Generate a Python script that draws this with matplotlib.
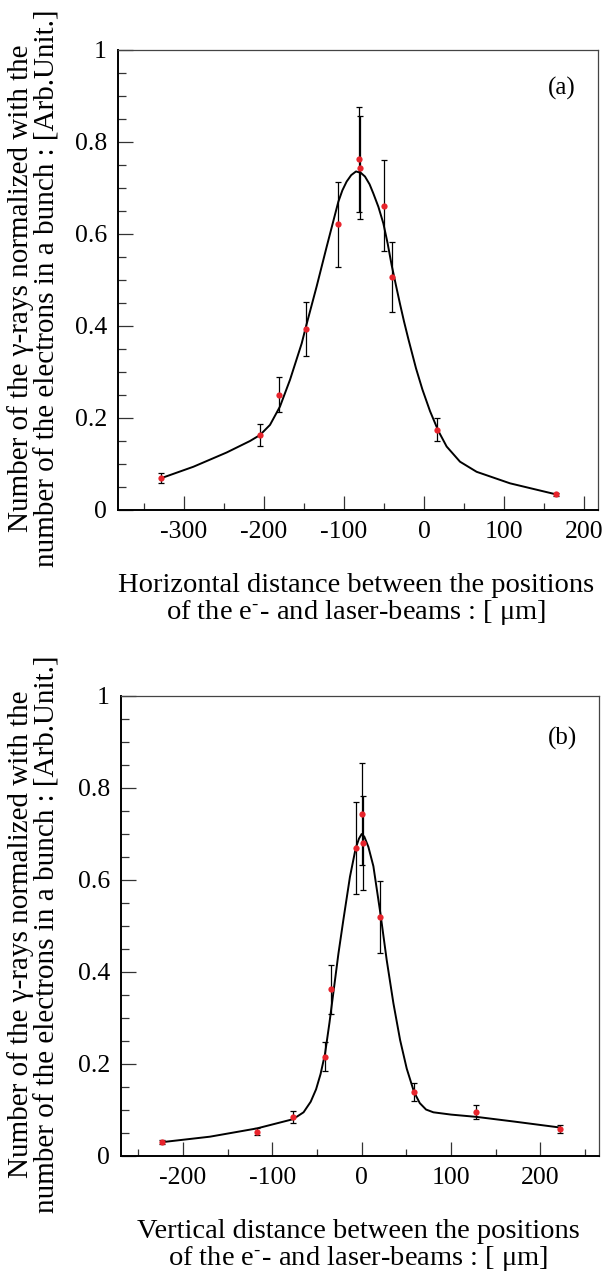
import numpy as np
import matplotlib.pyplot as plt
from matplotlib.ticker import MultipleLocator, FuncFormatter

plt.rcParams['font.family'] = ['Liberation Serif', 'DejaVu Serif']
plt.rcParams['mathtext.fontset'] = 'stix'
plt.rcParams['axes.unicode_minus'] = False

# (a) horizontal scan: measured points
h_pos = [-329, -205, -181, -147.5, -107, -81, -80, -50, -40.4, 16.3, 165]
h_val = [0.069, 0.163, 0.251, 0.394, 0.621, 0.762, 0.744, 0.661, 0.506, 0.175, 0.034]
h_err = [0.011, 0.024, 0.038, 0.059, 0.093, 0.115, 0.112, 0.099, 0.076, 0.026, 0.004]

# (a) fitted curve
h_fit_x = [-328.8, -288.3, -246.7, -217.5, -205, -192.5, -180, -167.5, -152.9,
           -147.5, -134.2, -121.7, -107.1, -102, -96.7, -91, -85, -79, -73.8,
           -68, -63.3, -57, -50.8, -45.5, -40.4, -35, -30, -25, -19.6, -10, -2,
           7.5, 17.9, 28.3, 45, 65.8, 107.5, 165]
h_fit_y = [0.069, 0.094, 0.125, 0.150, 0.163, 0.185, 0.225, 0.283, 0.362,
           0.399, 0.486, 0.572, 0.670, 0.695, 0.714, 0.728, 0.736, 0.733, 0.725,
           0.708, 0.688, 0.659, 0.623, 0.580, 0.532, 0.488, 0.448, 0.410, 0.372,
           0.308, 0.262, 0.215, 0.172, 0.138, 0.105, 0.083, 0.058, 0.034]

# (b) vertical scan: measured points
v_pos = [-223.7, -117.1, -76.8, -41, -34.7, -6.4, 0, 1.9, 20.8, 58.5, 128.2, 221.5]
v_val = [0.030, 0.053, 0.085, 0.216, 0.362, 0.669, 0.743, 0.681, 0.520, 0.139, 0.095, 0.059]
v_err = [0.004, 0.008, 0.013, 0.032, 0.054, 0.100, 0.111, 0.102, 0.078, 0.020, 0.015, 0.009]

# (b) fitted curve
v_fit_x = [-223.7, -169.7, -117.1, -76.8, -65, -57, -51, -46, -41, -36, -31, -26,
           -20.5, -13.1, -6.7, -3, 0, 3, 7.5, 13.1, 20.9, 28, 35.5, 43, 50.4,
           58.6, 65, 72, 80.2, 100, 128.6, 170, 221.5]
v_fit_y = [0.030, 0.042, 0.060, 0.080, 0.095, 0.118, 0.145, 0.178, 0.222, 0.290,
           0.365, 0.440, 0.513, 0.607, 0.669, 0.690, 0.700, 0.694, 0.672, 0.630,
           0.528, 0.426, 0.332, 0.252, 0.190, 0.139, 0.115, 0.101, 0.095, 0.090,
           0.085, 0.075, 0.062]

ylabel = "Number of the \u03b3-rays normalized with the\nnumber of the electrons in a bunch : [Arb.Unit.]"
xlabel_h = "Horizontal distance between the positions\nof the e$^{\\text{-}}$- and laser-beams : [ \u03bcm]"
xlabel_v = "Vertical distance between the positions\nof the e$^{\\text{-}}$- and laser-beams : [ \u03bcm]"

RED = '#e8242c'
W, H = 605, 1278


def style_axes(ax, xlim, xmajor):
    ax.set_xlim(*xlim)
    ax.set_ylim(0, 1)
    ax.xaxis.set_major_locator(MultipleLocator(xmajor))
    ax.xaxis.set_minor_locator(MultipleLocator(xmajor / 2))
    ax.yaxis.set_major_locator(MultipleLocator(0.2))
    ax.yaxis.set_minor_locator(MultipleLocator(0.05))
    fmt = FuncFormatter(lambda v, p: '{:g}'.format(round(v, 6)))
    ax.xaxis.set_major_formatter(fmt)
    ax.yaxis.set_major_formatter(fmt)
    ax.tick_params(which='both', direction='in', top=False, right=False,
                   labelsize=18.5, width=0.9, color='#333333')
    ax.tick_params(axis='y', which='major', length=11, pad=8)
    ax.tick_params(axis='y', which='minor', length=5.5)
    ax.tick_params(axis='x', which='major', length=10, pad=8)
    ax.tick_params(axis='x', which='minor', length=5)
    for s in ['left', 'bottom']:
        ax.spines[s].set_linewidth(1.4)
    for s in ['top', 'right']:
        ax.spines[s].set_linewidth(0.9)
        ax.spines[s].set_color('#444444')


def draw(ax, fx, fy, px, py, pe):
    ax.plot(fx, fy, color='black', lw=1.4, zorder=2)
    ax.errorbar(px, py, yerr=pe, fmt='none', ecolor='black', elinewidth=0.9,
                capsize=2, capthick=0.9, zorder=3)
    ax.plot(px, py, 'o', color=RED, ms=4.5, mec='none', zorder=4)


fig = plt.figure(figsize=(W / 100, H / 100), dpi=100)

ax1 = fig.add_axes([118 / W, 1 - 510 / H, 480 / W, 460 / H])
draw(ax1, h_fit_x, h_fit_y, h_pos, h_val, h_err)
style_axes(ax1, (-382.5, 217.5), 100)
ax1.text(0.924, 0.917, "(a)", transform=ax1.transAxes, ha='center', va='center', fontsize=18)

ax2 = fig.add_axes([121 / W, 1 - 1156 / H, 478.3 / W, 460 / H])
draw(ax2, v_fit_x, v_fit_y, v_pos, v_val, v_err)
style_axes(ax2, (-269.2, 265.8), 100)
ax2.text(0.923, 0.908, "(b)", transform=ax2.transAxes, ha='center', va='center', fontsize=18)

# axis titles as figure text, two lines each
fig.text(34 / W, 1 - 288 / H, ylabel, rotation=90, ha='center', va='center',
         multialignment='center', fontsize=21, linespacing=1.0)
fig.text(34 / W, 1 - 934 / H, ylabel, rotation=90, ha='center', va='center',
         multialignment='center', fontsize=21, linespacing=1.0)
fig.text(356 / W, 1 - 600 / H, xlabel_h, ha='center', va='center',
         multialignment='center', fontsize=20.5, linespacing=1.0)
fig.text(358 / W, 1 - 1246 / H, xlabel_v, ha='center', va='center',
         multialignment='center', fontsize=20.5, linespacing=1.0)

fig.savefig("out.png", dpi=100)
